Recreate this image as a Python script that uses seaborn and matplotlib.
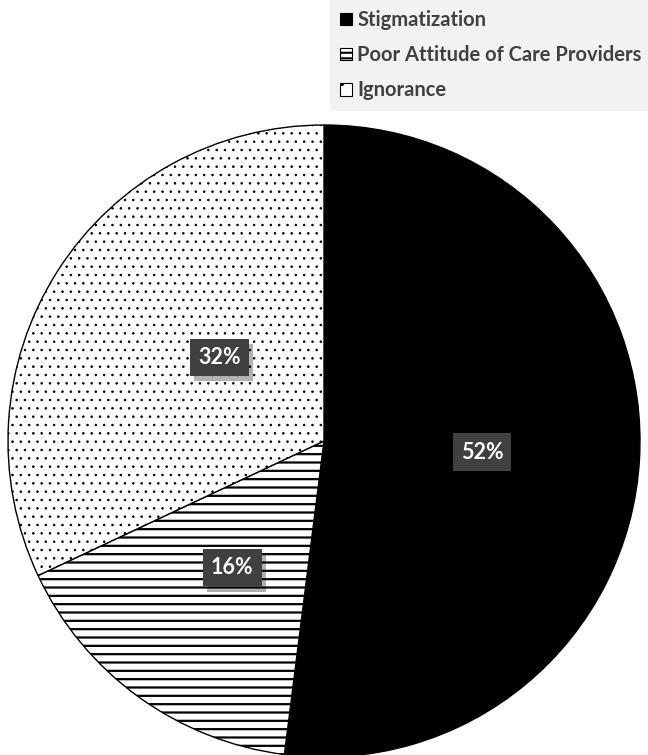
import matplotlib
matplotlib.use("Agg")
import matplotlib.pyplot as plt
import matplotlib.patheffects as pe
from matplotlib.patches import Patch
import seaborn as sns

categories = ["Stigmatization", "Poor Attitude of Care Providers", "Ignorance"]
values = [52, 16, 32]
labels = ["52%", "16%", "32%"]
hatches = ["", "--", ".."]
facecolors = ["black", "white", "white"]

sns.set_theme(style="white")
plt.rcParams["font.family"] = ["Lato", "DejaVu Sans"]
plt.rcParams["hatch.linewidth"] = 1.5
plt.rcParams["hatch.color"] = "black"

fig = plt.figure(figsize=(6.48, 7.55), dpi=100)
ax = fig.add_axes([8/648, (755-757)/755, 632/648, 632/755])

wedges, texts = ax.pie(values, startangle=90, counterclock=False,
                       colors=facecolors,
                       wedgeprops=dict(edgecolor="black", linewidth=1.0))
hatch_lw = [1.5, 1.6, 0.6]
for w, h, lw in zip(wedges, hatches, hatch_lw):
    w.set_hatch(h)
    if hasattr(w, "set_hatch_linewidth"):
        w.set_hatch_linewidth(lw)
ax.set_aspect("equal")
ax.set_xlim(-1.0, 1.0)
ax.set_ylim(-1.0, 1.0)
ax.axis("off")

label_pos = [(0.50, -0.035), (-0.29, -0.40), (-0.33, 0.265)]
for (x, y), lab in zip(label_pos, labels):
    t = ax.text(x, y, lab, ha="center", va="center", color="white",
                fontsize=15.5, fontweight="bold",
                bbox=dict(boxstyle="square,pad=0.38", fc="#404040", ec="none"))
    t.get_bbox_patch().set_path_effects([
        pe.SimplePatchShadow(offset=(3, -4), shadow_rgbFace="black", alpha=0.3),
        pe.Normal()])

handles = [Patch(facecolor=fc, edgecolor="black", hatch=h, linewidth=0.8)
           for fc, h in zip(facecolors, ["", "---", "."])]
leg = fig.legend(handles, categories, loc="upper left",
                 bbox_to_anchor=(330/648, 1.0), frameon=True,
                 fancybox=False, framealpha=1, facecolor="#f2f2f2",
                 edgecolor="#f2f2f2", fontsize=14.5,
                 handlelength=0.6, handleheight=0.6, handletextpad=0.25,
                 labelspacing=0.75, borderpad=0.5, borderaxespad=0)
for txt in leg.get_texts():
    txt.set_fontweight("bold")
    txt.set_color("#404040")

fig.savefig("out.png", dpi=100, facecolor="white")
